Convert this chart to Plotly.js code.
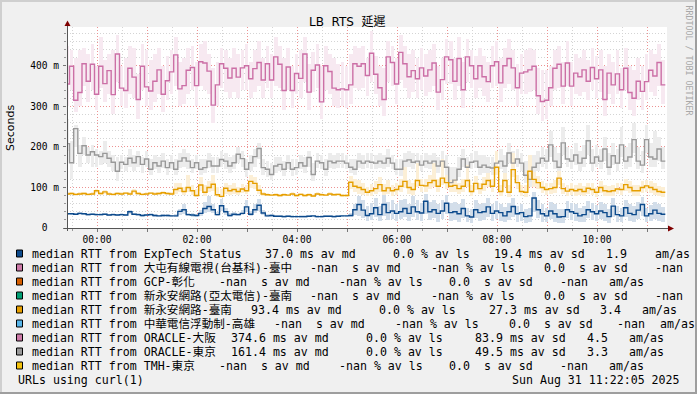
<!DOCTYPE html>
<html><head><meta charset="utf-8">
<script src="https://cdn.plot.ly/plotly-3.0.1.min.js"></script>
<style>html,body{margin:0;padding:0;background:#F0F0F0}#chart{width:697px;height:394px}</style>
</head><body><div id="chart"></div>
<script>
// ---------- DATA ----------
const START = '2025-08-30 23:22'; // first 5-minute step
const STEP_MIN = 5;
const chartTitle = 'LB  RTS  延遲';
const yTitle = 'Seconds';
const yTickVals = [0, 100, 200, 300, 400];
const yTickText = ['0  ', '100 m', '200 m', '300 m', '400 m'];
const xTickHours = [0,1,2,3,4,5,6,7,8,9,10,11];
const xTickText = ['00:00','','02:00','','04:00','','06:00','','08:00','','10:00',''];

// ORACLE-大阪 (ms)
const pinkMed = [355,399,315,334,405,362,404,330,399,356,
388,329,429,345,339,394,372,317,399,348,
338,362,390,330,363,385,427,343,351,389,
396,351,410,407,387,303,353,405,394,370,
394,372,395,400,368,393,408,365,405,365,
422,404,339,397,339,381,369,429,335,389,
402,311,400,386,345,341,343,341,353,405,
399,405,376,431,379,346,317,422,408,355,
433,405,373,388,368,395,375,390,407,335,
366,422,415,362,418,341,422,400,368,400,
373,361,400,410,358,400,418,395,346,382,
385,390,399,326,312,315,346,394,404,350,
407,350,382,373,390,362,396,368,390,317,
382,353,380,341,394,334,320,362,337,361,
389,375,408,353];
const pinkHi = [450,440,420,440,445,430,455,400,470,415,
430,440,475,400,420,450,445,380,455,440,
415,430,445,400,425,440,470,410,420,445,
450,410,455,460,430,395,410,445,440,420,
445,430,440,455,410,440,460,420,450,430,
470,450,420,445,400,430,440,470,405,435,
455,400,450,430,420,405,410,400,430,450,
445,450,420,485,425,400,395,460,450,420,
475,450,430,440,420,445,430,440,455,400,
420,465,460,420,470,410,465,440,425,445,
425,410,450,460,420,445,465,440,405,430,
440,445,440,395,390,390,400,440,450,410,
460,410,430,420,440,415,445,425,440,400,
430,410,440,395,445,400,390,420,400,430,
440,430,455,415];
const pinkLo = [300,340,285,300,350,310,340,290,345,310,
330,280,360,300,295,330,320,270,340,300,
290,310,330,285,315,330,350,300,305,330,
340,300,350,340,330,260,300,345,335,320,
335,320,340,340,320,335,350,320,345,320,
350,345,290,340,295,330,320,360,290,335,
345,270,340,330,300,295,300,295,305,345,
340,345,325,360,330,300,275,360,350,305,
365,345,320,335,320,340,325,335,350,290,
315,355,355,315,350,295,360,345,320,345,
325,310,345,350,310,345,355,340,300,330,
330,335,340,280,265,270,300,340,345,305,
350,300,330,325,335,315,340,320,335,275,
330,305,330,295,340,290,275,315,290,315,
335,325,350,305];

// ORACLE-東京 (ms)
const grayMed = [208,161,245,184,203,180,188,180,176,184,
172,162,140,162,157,172,161,176,157,170,
145,161,153,165,149,161,145,165,173,165,
149,161,145,149,165,153,153,169,165,153,
161,182,171,145,161,176,196,149,145,132,
153,157,145,161,145,149,161,153,174,132,
165,161,145,165,161,165,165,160,150,145,
165,160,165,162,160,165,160,172,160,145,
145,165,168,162,165,155,165,160,165,153,
165,150,112,118,145,170,150,162,165,150,
155,150,148,160,165,153,185,160,170,160,
130,120,150,160,172,165,205,165,150,210,
170,165,180,160,172,215,160,175,165,195,
150,178,160,205,165,175,218,165,155,218,
175,170,195,165];
const grayHi = [270,215,255,205,225,200,205,195,190,215,
190,180,175,180,175,195,180,190,175,190,
170,180,175,185,170,180,170,185,195,185,
170,180,170,170,185,175,175,190,185,175,
180,200,190,170,180,195,210,170,165,160,
175,175,165,180,170,170,180,175,190,160,
185,180,170,185,180,185,185,180,170,170,
185,180,185,185,180,185,180,195,180,170,
170,185,190,185,185,180,185,180,185,175,
190,180,150,150,175,195,175,185,190,180,
180,175,175,185,195,180,210,190,195,185,
165,160,180,190,200,195,240,200,185,250,
200,195,210,190,205,255,195,205,195,225,
185,210,195,250,200,210,260,200,190,255,
210,240,225,200];
const grayLo = [190,120,200,150,180,160,150,150,155,160,
150,140,115,145,140,150,140,150,135,150,
130,145,135,148,130,145,130,148,150,145,
135,145,130,135,148,135,135,150,145,135,
145,160,150,125,140,150,170,130,125,118,
135,140,128,145,128,130,145,135,150,115,
148,145,128,148,145,148,148,145,135,130,
148,145,148,145,145,148,145,150,145,130,
128,148,150,145,148,140,148,145,148,135,
145,130,95,100,125,150,130,145,148,130,
135,130,130,140,145,135,160,140,150,140,
110,100,130,140,150,145,175,145,130,180,
150,145,155,140,150,180,140,150,145,165,
130,155,140,175,145,150,185,145,135,185,
150,150,165,145];

// 新永安網路-臺南 (ms)
const yelMed = [84,85,83,84,85,83,84,92,85,89,
84,83,85,84,86,84,91,85,83,84,
86,84,85,87,85,84,95,98,90,100,
92,80,106,88,100,108,82,78,98,92,
95,90,96,92,115,110,93,84,82,81,
82,80,82,81,84,80,83,80,82,79,
84,82,81,84,82,83,80,80,113,103,
100,95,88,92,97,107,92,99,92,95,
103,115,100,95,117,105,104,112,117,103,
123,112,103,105,97,103,117,90,110,97,
108,117,103,150,90,117,88,144,112,90,
88,140,120,112,100,95,97,100,123,97,
91,95,92,95,90,98,95,88,100,92,
90,92,96,95,107,100,92,92,100,104,
100,95,90,88];
const yelHi = [88,89,87,88,89,87,88,97,89,93,
88,87,89,88,90,88,96,89,87,88,
90,88,89,92,89,88,110,112,100,130,
105,95,125,105,115,130,100,95,110,105,
110,100,108,105,130,125,105,90,86,85,
86,84,86,85,88,84,87,84,86,83,
88,86,85,88,86,87,84,85,128,120,
118,112,100,108,115,125,108,118,105,112,
120,150,118,110,160,122,120,130,160,120,
170,130,118,122,112,120,155,105,128,112,
125,135,120,190,105,135,105,185,130,105,
105,180,138,128,115,110,112,118,140,110,
105,110,106,110,104,112,110,102,115,106,
104,106,110,110,122,115,106,106,115,118,
115,110,104,102];
const yelLo = [81,82,80,81,82,80,81,86,82,85,
81,80,82,81,83,81,86,82,80,81,
83,81,82,84,82,81,85,88,82,88,
82,76,92,80,88,92,76,74,85,82,
85,82,86,84,98,95,84,80,79,78,
79,77,79,78,81,77,80,77,79,76,
81,79,78,81,79,80,77,77,95,88,
85,82,78,80,84,90,80,85,80,82,
88,98,85,82,100,90,88,95,100,88,
105,95,88,90,84,88,100,78,94,84,
92,100,88,130,78,100,76,125,95,78,
76,120,102,96,86,82,84,86,105,84,
80,82,80,82,78,85,82,77,86,80,
78,80,84,82,92,86,80,80,86,90,
86,82,78,77];

// ExpTech Status (ms)
const bluMed = [35,35,34,36,35,33,34,33,33,34,
32,33,32,33,32,40,34,33,31,32,
33,31,30,31,31,30,30,41,45,33,
32,31,36,48,53,45,33,55,40,31,
34,33,36,52,34,45,56,37,30,31,
29,29,28,29,28,28,28,28,29,30,
28,28,29,29,28,29,30,30,31,45,
58,44,31,35,50,33,58,38,42,36,
40,48,36,52,40,37,66,40,45,36,
42,61,38,40,35,48,30,27,45,38,
40,52,36,42,38,30,40,53,35,38,
28,30,74,45,35,30,42,35,27,28,
45,40,36,30,33,45,40,35,42,38,
28,54,33,30,50,36,33,44,58,30,
35,44,36,34];
const bluHi = [38,38,37,39,38,36,37,36,36,37,
35,36,35,36,35,44,37,36,34,35,
36,34,33,34,34,33,34,48,60,38,
36,35,45,65,78,58,40,72,50,36,
40,38,45,70,42,60,72,45,34,34,
32,32,31,32,31,31,31,31,32,33,
31,31,32,32,31,32,33,33,36,58,
80,70,55,62,75,55,82,65,68,60,
68,72,60,78,68,62,85,65,70,60,
70,82,62,65,58,72,50,48,68,60,
62,75,58,66,60,52,62,75,55,58,
48,50,88,70,58,50,65,58,48,48,
66,62,58,50,55,66,62,56,64,58,
48,75,54,50,70,58,54,64,76,50,
56,64,58,52];
const bluLo = [32,32,31,33,32,30,31,30,30,31,
29,30,29,30,29,34,31,30,28,29,
30,28,27,28,28,27,27,33,35,29,
28,28,30,38,40,36,29,42,33,28,
30,29,31,40,30,36,42,32,27,28,
26,26,25,26,25,25,25,25,26,27,
25,25,26,26,25,26,27,27,27,33,
30,24,18,20,26,18,30,20,22,18,
22,26,18,28,20,18,35,20,24,16,
22,35,18,20,16,25,14,12,24,18,
20,28,17,22,18,14,20,28,16,18,
12,14,40,24,16,14,22,16,12,12,
24,20,17,14,16,24,20,17,22,18,
12,28,16,14,26,17,16,22,30,14,
17,22,17,16];

const legendLabels = [
 'median RTT from ExpTech Status',
 'median RTT from 大屯有線電視(台基科)-臺中',
 'median RTT from GCP-彰化',
 'median RTT from 新永安網路(亞太電信)-臺南',
 'median RTT from 新永安網路-臺南',
 'median RTT from 中華電信浮動制-高雄',
 'median RTT from ORACLE-大阪',
 'median RTT from ORACLE-東京',
 'median RTT from TMH-東京'];
const legendStats = [
 ['37.0 ms av md','0.0 % av ls','19.4 ms av sd','1.9','am/as'],
 ['-nan  s av md','-nan % av ls','0.0  s av sd','-nan'],
 ['-nan  s av md','-nan % av ls','0.0  s av sd','-nan','am/as'],
 ['-nan  s av md','-nan % av ls','0.0  s av sd','-nan'],
 ['93.4 ms av md','0.0 % av ls','27.3 ms av sd','3.4','am/as'],
 ['-nan  s av md','-nan % av ls','0.0  s av sd','-nan','am/as'],
 ['374.6 ms av md','0.0 % av ls','83.9 ms av sd','4.5','am/as'],
 ['161.4 ms av md','0.0 % av ls','49.5 ms av sd','3.3','am/as'],
 ['-nan  s av md','-nan % av ls','0.0  s av sd','-nan','am/as']];
const footLeft = 'URLs using curl(1)';
const footRight = 'Sun Aug 31 11:22:05 2025';
const watermark = 'RRDTOOL / TOBI OETIKER';

// ---------- STYLE / LAYOUT ----------
const legendColors = ['#0C4A8C','#CC79A7','#D55E00','#009E73','#E69F00','#56B4E9','#CC79A7','#999999','#F4C20D'];
const legendStatX = [
 [263.3,391,491.7,604,653.3],
 [308.3,429,541.7,653.3],
 [216.7,336.7,446.7,558.3,606.7],
 [308.3,429,541.7,653.3],
 [249.3,376.7,486.7,598.3,640],
 [272.3,393.3,506.7,615,657.5],
 [229,364.3,473.3,585,626.7],
 [229,364.3,473.3,585,626.7],
 [216.7,336.7,446.7,558.3,606.7]];
const rowY = [253.5,267.5,281.5,295.5,309.5,323.5,337.5,351.5,365.5];
const MONO = 'DejaVu Sans Mono, Noto Sans CJK TC, monospace';
const SANS = 'DejaVu Sans, Noto Sans CJK TC, sans-serif';
const W = 697, H = 394, PL = 67, PR = 667, PT = 27, PB = 228;
const px2x = p => (p - PL) / (PR - PL);
const py2y = p => (PB - p) / (PB - PT);
const nb = s => s.replace(/ /g, '\u00A0');

const stepMs = STEP_MIN * 60000;
const t0 = new Date(START.replace(' ', 'T') + ':00Z').getTime();
const n = pinkMed.length;
const tStart = pinkMed.map((_, k) => t0 + k * stepMs);
const tMid = tStart.map(t => t + stepMs / 2);
const tLine = tStart.concat([t0 + n * stepMs]);
const ext = a => a.concat([a[a.length - 1]]);
const day = Date.UTC(2025, 7, 31);
const xRange = [Date.UTC(2025,7,30,23,24), Date.UTC(2025,7,31,11,24)];

function smoke(lo, hi, color) {
  return {type:'bar', x:tMid, base:lo, y:hi.map((h,i)=>h-lo[i]), width:stepMs*0.9,
    marker:{color:color, line:{width:0}}, hoverinfo:'skip', showlegend:false};
}
function median(m, color) {
  return {type:'scatter', mode:'lines', x:tLine, y:ext(m),
    line:{color:color, width:1.4, shape:'hv'}, hoverinfo:'skip', showlegend:false};
}

const traces = [
  smoke(pinkLo, pinkHi, '#F7E9F1'),
  smoke(grayLo, grayHi, '#ECECEC'),
  smoke(yelLo, yelHi, '#FCEFD6'),
  smoke(bluLo, bluHi, '#D3DEEA'),
  median(pinkMed, '#CC6FA6'),
  median(grayMed, '#999999'),
  median(yelMed, '#E69F00'),
  median(bluMed, '#0C4A8C')
];

const ann = [];
const shapes = [];
function txt(x, y, s, opt) {
  ann.push(Object.assign({xref:'paper', yref:'paper', x:px2x(x), y:py2y(y), text:nb(s),
    showarrow:false, xanchor:'left', yanchor:'middle',
    font:{family:MONO, size:11.6, color:'#000'}}, opt || {}));
}
// title, axis title, watermark
txt(347.5, 22, chartTitle, {xanchor:'center', font:{family:SANS, size:12, color:'#000'}});
txt(10, 128, yTitle, {xanchor:'center', textangle:-90, font:{family:SANS, size:11, color:'#000'}});
txt(688.5, 60, watermark, {xanchor:'center', textangle:90, font:{family:MONO, size:8.3, color:'#A8A8A8'}});
// legend
legendLabels.forEach((lab, i) => {
  txt(30, rowY[i], lab);
  legendStats[i].forEach((s, j) => txt(legendStatX[i][j], rowY[i], s));
  shapes.push({type:'rect', xref:'paper', yref:'paper', x0:px2x(16.5), x1:px2x(22.5),
    y0:py2y(rowY[i]-3.5), y1:py2y(rowY[i]+3.5), fillcolor:legendColors[i], line:{color:'#000', width:1}});
});
txt(16, 380, footLeft);
txt(681.7, 380, footRight, {xanchor:'right'});

// frame
const rectPx = (x0,y0,x1,y1,c) => shapes.push({type:'rect', xref:'paper', yref:'paper', x0:px2x(x0), x1:px2x(x1), y0:py2y(y0), y1:py2y(y1), fillcolor:c, line:{width:0}, layer:'above'});
rectPx(0,0,697,2,'#CFCFCF');
rectPx(0,0,2,394,'#CFCFCF');
rectPx(0,392,697,394,'#9E9E9E');
rectPx(695,0,697,394,'#9E9E9E');
// axes lines and arrows
shapes.push({type:'line', xref:'paper', yref:'paper', x0:px2x(64), x1:px2x(669), y0:py2y(228.5), y1:py2y(228.5), line:{color:'#555', width:1}, layer:'above'});
shapes.push({type:'line', xref:'paper', yref:'paper', x0:px2x(67.5), x1:px2x(67.5), y0:py2y(231), y1:py2y(25), line:{color:'#555', width:1}, layer:'above'});
const pth = pts => 'M' + pts.map(p => px2x(p[0]) + ',' + py2y(p[1])).join(' L') + ' Z';
shapes.push({type:'path', xref:'paper', yref:'paper', path:pth([[668,225.5],[674,228.5],[668,231.5]]), fillcolor:'#7F0000', line:{width:0}, layer:'above'});
shapes.push({type:'path', xref:'paper', yref:'paper', path:pth([[64.5,26],[67.5,20.5],[70.5,26]]), fillcolor:'#7F0000', line:{width:0}, layer:'above'});

const layout = {
  width:W, height:H,
  margin:{l:PL, r:W-PR, t:PT, b:H-PB, pad:0},
  paper_bgcolor:'#F0F0F0', plot_bgcolor:'#FFFFFF',
  showlegend:false, barmode:'overlay', bargap:0,
  xaxis:{type:'date', range:xRange, automargin:false, fixedrange:true,
    tickmode:'array', tickvals:xTickHours.map(h => day + h*3600000), ticktext:xTickText,
    showgrid:true, gridcolor:'#EC9292', griddash:'1px,2px', gridwidth:1,
    ticks:'outside', ticklen:3, tickcolor:'#777', tickwidth:1, ticklabelstandoff:-1,
    tickfont:{family:MONO, size:9.6, color:'#000'},
    minor:{tick0:'2025-08-31 00:00', dtick:1800000, showgrid:true, gridcolor:'#D4D4D4', griddash:'1px,2px', gridwidth:1, ticks:'outside', ticklen:2, tickcolor:'#999'},
    zeroline:false, showline:false},
  yaxis:{range:[0,495.7], automargin:false, fixedrange:true,
    tickmode:'array', tickvals:yTickVals, ticktext:yTickText.map(nb),
    showgrid:true, gridcolor:'#EC9292', griddash:'1px,2px', gridwidth:1,
    ticks:'outside', ticklen:3, tickcolor:'#777', tickwidth:1, ticklabelstandoff:2,
    tickfont:{family:MONO, size:9.6, color:'#000'},
    minor:{tick0:0, dtick:20, showgrid:true, gridcolor:'#D4D4D4', griddash:'1px,2px', gridwidth:1, ticks:'outside', ticklen:2, tickcolor:'#999'},
    zeroline:false, showline:false},
  shapes:shapes, annotations:ann
};
Plotly.newPlot('chart', traces, layout, {staticPlot:true, displayModeBar:false});
</script>
</body></html>
